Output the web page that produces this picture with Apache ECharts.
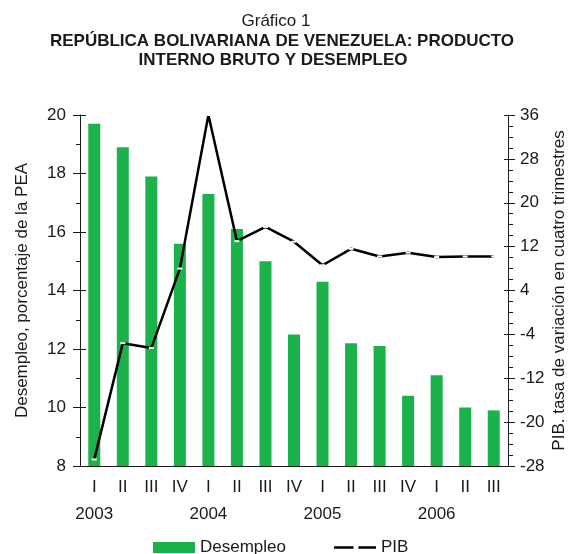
<!DOCTYPE html>
<html>
<head>
<meta charset="utf-8">
<script src="https://cdn.jsdelivr.net/npm/echarts@6/dist/echarts.min.js"></script>
<style>html,body{margin:0;padding:0;background:#fff}#c{width:568px;height:554px}</style>
</head>
<body>
<div id="c"></div>
<script>
var quarters = ['I','II','III','IV','I','II','III','IV','I','II','III','IV','I','II','III'];
var yearLabels = ['2003','','','','2004','','','','2005','','','','2006','',''];
var desempleo = [19.7, 18.9, 17.9, 15.6, 17.3, 16.1, 15.0, 12.5, 14.3, 12.2, 12.1, 10.4, 11.1, 10.0, 9.9];
var pib = [-26.8, -5.6, -6.5, 8.0, 36, 13.0, 15.6, 12.9, 8.6, 11.6, 10.2, 10.9, 10.1, 10.2, 10.2];
var leftTicks = {min: 8, max: 20, interval: 2};
var rightTicks = {min: -28, max: 36, interval: 8};

var FONT = 'Liberation Sans, Arial, Helvetica, sans-serif';
var chart = echarts.init(document.getElementById('c'), null, {renderer: 'canvas'});
var axisColor = '#1a1a1a';
chart.setOption({
  animation: false,
  textStyle: {fontFamily: FONT, color: '#1a1a1a'},
  title: [
    {text: 'Gráfico 1', left: 271, textAlign: 'center', top: 8,
     textStyle: {fontSize: 17, fontWeight: 'normal', color: '#1a1a1a', fontFamily: FONT}},
    {text: 'REPÚBLICA BOLIVARIANA DE VENEZUELA: PRODUCTO', left: 277, textAlign: 'center', top: 28,
     textStyle: {fontSize: 17, fontWeight: 'bold', color: '#1a1a1a', fontFamily: FONT}},
    {text: 'INTERNO BRUTO Y DESEMPLEO', left: 268, textAlign: 'center', top: 47,
     textStyle: {fontSize: 17, fontWeight: 'bold', color: '#1a1a1a', fontFamily: FONT}}
  ],
  legend: {
    left: 153, top: 539, padding: 0, itemWidth: 42, itemHeight: 11, itemGap: 48,
    textStyle: {fontSize: 17, color: '#1a1a1a', fontFamily: FONT},
    data: [
      {name: 'Desempleo', icon: 'rect'},
      {name: 'PIB', icon: 'path://M0,0H20V2.5H0Z M25,0H43V2.5H25Z', itemStyle: {color: '#000', borderWidth: 0}}
    ]
  },
  grid: {left: 80, right: 60, top: 115, bottom: 88, containLabel: false, outerBoundsMode: 'none'},
  xAxis: {
    type: 'category', data: quarters,
    axisLine: {show: true, onZero: false, lineStyle: {color: axisColor, width: 1}},
    axisTick: {show: false},
    axisLabel: {
      margin: 8, interval: 0,
      formatter: function (v, i) { return '{r|' + v + '}\n{y|' + (yearLabels[i] || ' ') + '}'; },
      rich: {
        r: {fontSize: 17, lineHeight: 27, color: '#1a1a1a', fontFamily: FONT},
        y: {fontSize: 17, lineHeight: 27, color: '#1a1a1a', fontFamily: FONT}
      }
    }
  },
  yAxis: [
    {
      type: 'value', position: 'left', min: leftTicks.min, max: leftTicks.max, interval: leftTicks.interval,
      name: 'Desempleo, porcentaje de la PEA', nameLocation: 'middle', nameGap: 49, nameMoveOverlap: false,
      nameTextStyle: {fontSize: 17, color: '#1a1a1a', fontFamily: FONT},
      axisLine: {show: true, lineStyle: {color: axisColor, width: 1}},
      axisTick: {show: true, length: 7, lineStyle: {color: axisColor}},
      minorTick: {show: true, splitNumber: 2, length: 4, lineStyle: {color: axisColor}},
      axisLabel: {margin: 14, fontSize: 17, color: '#1a1a1a', fontFamily: FONT},
      splitLine: {show: false}
    },
    {
      type: 'value', position: 'right', min: rightTicks.min, max: rightTicks.max, interval: rightTicks.interval,
      name: 'PIB. tasa de variación en cuatro trimestres', nameLocation: 'middle', nameGap: 43, nameRotate: 90,
      nameMoveOverlap: false,
      nameTextStyle: {fontSize: 17, color: '#1a1a1a', fontFamily: FONT},
      axisLine: {show: true, lineStyle: {color: axisColor, width: 1}},
      axisTick: {show: true, length: 7, lineStyle: {color: axisColor}},
      minorTick: {show: true, splitNumber: 4, length: 5, lineStyle: {color: axisColor}},
      axisLabel: {margin: 12, fontSize: 17, color: '#1a1a1a', fontFamily: FONT},
      splitLine: {show: false}
    },
    {
      type: 'value', position: 'left', min: leftTicks.min, max: leftTicks.max, interval: leftTicks.interval,
      axisLine: {show: false}, axisLabel: {show: false}, splitLine: {show: false},
      axisTick: {show: true, inside: true, length: 6, lineStyle: {color: axisColor}}
    },
    {
      type: 'value', position: 'right', min: rightTicks.min, max: rightTicks.max, interval: rightTicks.interval,
      axisLine: {show: false}, axisLabel: {show: false}, splitLine: {show: false},
      axisTick: {show: true, inside: true, length: 4, lineStyle: {color: axisColor}}
    }
  ],
  series: [
    {
      name: 'Desempleo', type: 'bar', data: desempleo, yAxisIndex: 0, barWidth: 12,
      itemStyle: {color: '#1bb14b'}
    },
    {
      name: 'PIB', type: 'line', data: pib, yAxisIndex: 1, z: 5,
      lineStyle: {color: '#000', width: 2.5},
      symbol: 'rect', symbolSize: [5, 2], showSymbol: true, showAllSymbol: true,
      itemStyle: {color: '#fff', borderWidth: 0}
    }
  ]
});
</script>
</body>
</html>
